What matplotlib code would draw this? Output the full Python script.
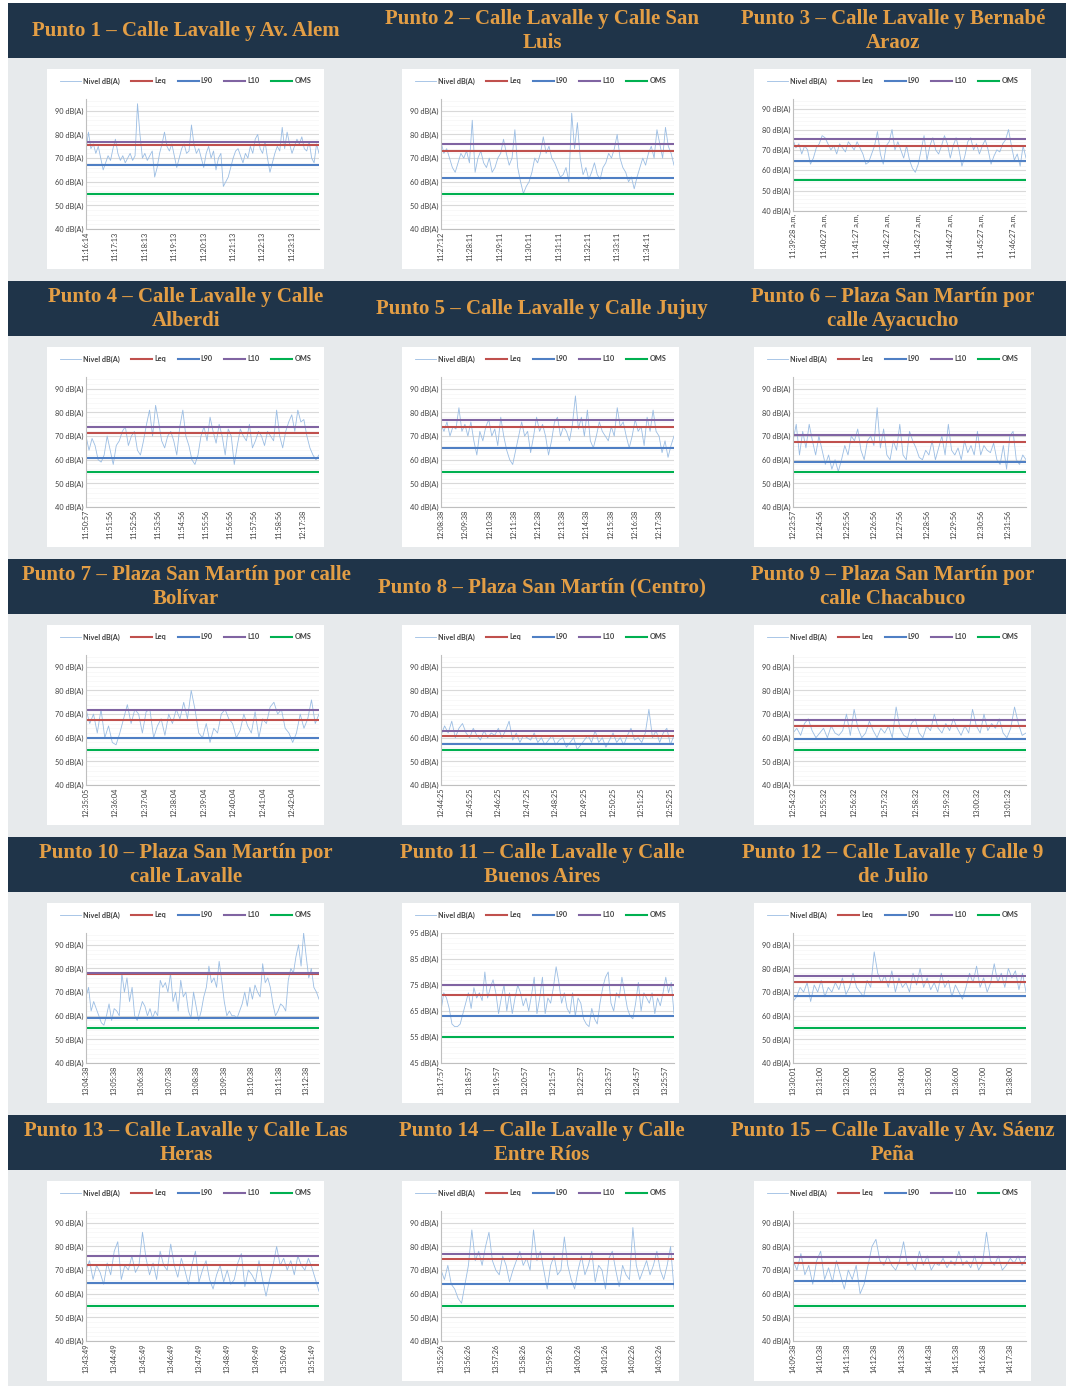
import numpy as np
import matplotlib.pyplot as plt
from matplotlib.patches import Rectangle

# titles of the 15 measuring points
titles = [
    "Punto 1 – Calle Lavalle y Av. Alem",
    "Punto 2 – Calle Lavalle y Calle San\nLuis",
    "Punto 3 – Calle Lavalle y Bernabé\nAraoz",
    "Punto 4 – Calle Lavalle y Calle\nAlberdi",
    "Punto 5 – Calle Lavalle y Calle Jujuy",
    "Punto 6 – Plaza San Martín por\ncalle Ayacucho",
    "Punto 7 – Plaza San Martín por calle\nBolívar",
    "Punto 8 – Plaza San Martín (Centro)",
    "Punto 9 – Plaza San Martín por\ncalle Chacabuco",
    "Punto 10 – Plaza San Martín por\ncalle Lavalle",
    "Punto 11 – Calle Lavalle y Calle\nBuenos Aires",
    "Punto 12 – Calle Lavalle y Calle 9\nde Julio",
    "Punto 13 – Calle Lavalle y Calle Las\nHeras",
    "Punto 14 – Calle Lavalle y Calle\nEntre Ríos",
    "Punto 15 – Calle Lavalle y Av. Sáenz\nPeña",
]

# measurement length in seconds
durations = [476, 476, 444, 581, 577, 521, 475, 489, 455, 508, 500, 515, 495, 512, 515]

# x tick labels, one per minute
time_labels = [
    ["11:16:14", "11:17:13", "11:18:13", "11:19:13", "11:20:13", "11:21:13", "11:22:13", "11:23:13"],
    ["11:27:12", "11:28:11", "11:29:11", "11:30:11", "11:31:11", "11:32:11", "11:33:11", "11:34:11"],
    ["11:39:28 a,m,", "11:40:27 a,m,", "11:41:27 a,m,", "11:42:27 a,m,", "11:43:27 a,m,",
     "11:44:27 a,m,", "11:45:27 a,m,", "11:46:27 a,m,"],
    ["11:50:57", "11:51:56", "11:52:56", "11:53:56", "11:54:56", "11:55:56", "11:56:56",
     "11:57:56", "11:58:56", "12:17:38"],
    ["12:08:38", "12:09:38", "12:10:38", "12:11:38", "12:12:38", "12:13:38", "12:14:38",
     "12:15:38", "12:16:38", "12:17:38"],
    ["12:23:57", "12:24:56", "12:25:56", "12:26:56", "12:27:56", "12:28:56", "12:29:56", "12:30:56", "12:31:56"],
    ["12:35:05", "12:36:04", "12:37:04", "12:38:04", "12:39:04", "12:40:04", "12:41:04", "12:42:04"],
    ["12:44:25", "12:45:25", "12:46:25", "12:47:25", "12:48:25", "12:49:25", "12:50:25", "12:51:25", "12:52:25"],
    ["12:54:32", "12:55:32", "12:56:32", "12:57:32", "12:58:32", "12:59:32", "13:00:32", "13:01:32"],
    ["13:04:38", "13:05:38", "13:06:38", "13:07:38", "13:08:38", "13:09:38", "13:10:38", "13:11:38", "13:12:38"],
    ["13:17:57", "13:18:57", "13:19:57", "13:20:57", "13:21:57", "13:22:57", "13:23:57", "13:24:57", "13:25:57"],
    ["13:30:01", "13:31:00", "13:32:00", "13:33:00", "13:34:00", "13:35:00", "13:36:00", "13:37:00", "13:38:00"],
    ["13:43:49", "13:44:49", "13:45:49", "13:46:49", "13:47:49", "13:48:49", "13:49:49", "13:50:49", "13:51:49"],
    ["13:55:26", "13:56:26", "13:57:26", "13:58:26", "13:59:26", "14:00:26", "14:01:26", "14:02:26", "14:03:26"],
    ["14:09:38", "14:10:38", "14:11:38", "14:12:38", "14:13:38", "14:14:38", "14:15:38", "14:16:38", "14:17:38"],
]

# summary levels dB(A)
leq = [75.4, 73.1, 72.0, 71.3, 73.8, 67.3, 67.7, 60.9, 64.9, 77.8, 71.2, 74.1, 72.3, 74.7, 73.1]
l90 = [67.0, 61.7, 64.6, 60.7, 65.1, 59.2, 59.9, 57.2, 59.6, 59.0, 63.0, 68.2, 64.4, 64.1, 65.2]
l10 = [76.7, 75.8, 75.2, 74.0, 76.7, 70.3, 71.6, 63.0, 67.7, 78.2, 75.0, 76.9, 75.8, 77.0, 75.5]
oms = 55

# lower end of each y axis (top is 95)
y_min = [40, 40, 40, 40, 40, 40, 40, 40, 40, 40, 45, 40, 40, 40, 40]

nivel_p1 = [73, 81, 74, 76, 72, 75, 70, 65, 68, 71, 69, 74, 78, 72, 69, 71, 68, 70, 72, 69, 71, 93, 80, 70,
            72, 69, 71, 73, 62, 66, 72, 76, 81, 75, 73, 76, 71, 66, 70, 74, 76, 72, 73, 84, 76, 72, 74, 70,
            66, 72, 75, 70, 73, 65, 70, 72, 58, 60, 62, 66, 70, 73, 74, 71, 68, 72, 70, 75, 72, 78, 80, 74,
            72, 77, 70, 64, 68, 72, 75, 73, 83, 74, 81, 76, 72, 75, 78, 76, 79, 74, 73, 77, 70, 68, 76, 72]
nivel_p2 = [77, 72, 74, 70, 66, 64, 68, 72, 70, 73, 68, 86, 64, 70, 73, 68, 66, 70, 64, 66, 70, 72, 78, 72,
            67, 70, 82, 66, 60, 55, 58, 60, 64, 70, 68, 72, 79, 72, 75, 70, 68, 65, 62, 63, 66, 60, 89, 74,
            85, 70, 63, 66, 61, 64, 68, 63, 61, 66, 68, 72, 70, 74, 80, 70, 66, 64, 60, 62, 57, 62, 66, 70,
            67, 72, 75, 70, 82, 76, 70, 83, 75, 72, 67]
nivel_p3 = [75, 71, 73, 68, 72, 70, 63, 66, 71, 73, 77, 76, 73, 70, 72, 68, 73, 71, 69, 74, 72, 70, 74, 71,
            68, 63, 64, 68, 72, 79, 68, 63, 72, 74, 80, 70, 74, 70, 66, 72, 65, 61, 59, 63, 70, 77, 65, 72,
            76, 70, 68, 72, 77, 73, 66, 72, 76, 70, 62, 67, 74, 76, 70, 73, 68, 72, 75, 70, 63, 67, 70, 69,
            73, 75, 80, 72, 65, 68, 62, 72, 66]
nivel_p4 = [70, 64, 69, 66, 60, 59, 62, 70, 64, 58, 66, 68, 72, 74, 66, 70, 72, 64, 62, 68, 75, 81, 70, 83,
            76, 68, 65, 70, 72, 68, 62, 74, 81, 70, 66, 60, 58, 62, 70, 74, 68, 78, 72, 67, 75, 70, 62, 73,
            70, 58, 66, 73, 70, 68, 75, 65, 68, 72, 70, 66, 72, 70, 68, 81, 70, 65, 72, 76, 79, 72, 81, 76,
            77, 70, 65, 62, 60, 62]
nivel_p5 = [75, 72, 76, 70, 74, 73, 82, 72, 75, 70, 76, 68, 62, 72, 68, 74, 77, 70, 73, 66, 78, 70, 64, 60,
            58, 64, 70, 76, 70, 72, 63, 70, 78, 72, 75, 70, 62, 68, 76, 78, 70, 74, 72, 68, 75, 87, 73, 78,
            70, 81, 68, 65, 70, 76, 72, 70, 68, 74, 70, 82, 74, 76, 70, 65, 70, 77, 72, 74, 66, 78, 72, 81,
            72, 70, 63, 68, 61, 66, 70]
nivel_p6 = [68, 75, 62, 72, 65, 75, 68, 62, 70, 64, 58, 62, 56, 60, 55, 60, 66, 62, 70, 68, 73, 64, 60, 68,
            70, 66, 82, 65, 73, 62, 60, 68, 64, 75, 62, 60, 72, 68, 65, 61, 60, 64, 62, 68, 60, 65, 70, 62,
            75, 64, 62, 65, 60, 68, 63, 66, 62, 72, 62, 66, 64, 63, 67, 60, 58, 66, 56, 70, 72, 60, 58, 62, 60]
nivel_p7 = [72, 66, 70, 62, 72, 60, 65, 58, 57, 62, 68, 74, 66, 72, 70, 62, 71, 72, 60, 65, 68, 61, 70, 66,
            72, 68, 75, 68, 80, 72, 62, 60, 66, 58, 64, 62, 70, 72, 68, 66, 60, 63, 70, 65, 62, 71, 60, 68,
            66, 73, 75, 70, 72, 64, 62, 58, 62, 70, 64, 68, 76, 66, 70]
nivel_p8 = [61, 65, 62, 67, 60, 64, 66, 62, 60, 64, 61, 59, 63, 60, 62, 61, 64, 60, 63, 67, 59, 62, 58, 61,
            60, 59, 62, 58, 60, 57, 59, 61, 57, 59, 60, 56, 58, 60, 55, 57, 59, 61, 58, 63, 58, 60, 56, 59,
            62, 58, 60, 57, 61, 64, 59, 60, 58, 62, 72, 60, 63, 58, 62, 64, 57, 61]
nivel_p9 = [62, 64, 61, 66, 68, 63, 60, 62, 64, 60, 65, 62, 61, 63, 70, 61, 72, 64, 60, 62, 67, 63, 60, 64,
            62, 65, 60, 73, 64, 61, 60, 66, 68, 62, 60, 65, 63, 70, 64, 62, 66, 63, 68, 64, 61, 65, 62, 72,
            65, 62, 70, 63, 66, 64, 68, 62, 60, 64, 73, 66, 61, 62]
nivel_p10 = [68, 72, 62, 66, 63, 60, 57, 56, 60, 65, 58, 63, 62, 60, 78, 70, 76, 66, 72, 60, 58, 62, 66, 64,
             60, 63, 59, 62, 60, 75, 72, 74, 70, 78, 66, 70, 62, 75, 68, 70, 62, 59, 70, 64, 58, 62, 68, 72,
             81, 74, 76, 72, 83, 75, 66, 60, 62, 60, 60, 59, 62, 65, 70, 64, 72, 67, 73, 70, 68, 82, 74, 76,
             72, 65, 60, 62, 65, 64, 62, 75, 80, 78, 85, 90, 81, 95, 85, 76, 80, 72, 70, 67]
nivel_p11 = [65, 72, 70, 66, 60, 59, 59, 60, 64, 68, 72, 66, 74, 70, 72, 69, 80, 70, 74, 77, 72, 64, 70, 75,
             65, 72, 64, 70, 75, 72, 67, 70, 65, 71, 78, 64, 70, 78, 64, 70, 68, 74, 82, 76, 68, 72, 66, 64,
             72, 63, 70, 68, 62, 60, 59, 66, 62, 60, 68, 74, 78, 80, 68, 65, 72, 70, 78, 72, 66, 63, 62, 68,
             76, 65, 72, 70, 68, 72, 64, 70, 67, 72, 78, 72, 76, 64]
nivel_p12 = [66, 68, 72, 70, 74, 66, 73, 70, 75, 68, 72, 70, 74, 71, 76, 69, 72, 78, 72, 70, 68, 75, 72, 87,
             78, 74, 77, 72, 79, 70, 76, 72, 74, 70, 78, 73, 80, 72, 76, 71, 74, 70, 78, 72, 75, 68, 73, 70,
             67, 72, 78, 74, 81, 72, 76, 70, 74, 82, 74, 78, 72, 80, 76, 79, 71, 78, 70]
nivel_p13 = [70, 74, 66, 72, 69, 64, 73, 68, 78, 82, 66, 72, 70, 76, 69, 72, 86, 75, 68, 73, 66, 78, 72, 70,
             81, 72, 67, 75, 70, 64, 72, 78, 65, 70, 74, 66, 62, 68, 72, 65, 70, 64, 66, 73, 77, 63, 70, 68,
             65, 74, 66, 59, 66, 72, 80, 72, 75, 70, 74, 68, 76, 72, 70, 75, 71, 66, 61]
nivel_p14 = [70, 66, 72, 64, 62, 58, 56, 64, 72, 87, 74, 78, 72, 80, 86, 74, 70, 68, 76, 72, 65, 70, 74, 78,
             72, 75, 70, 87, 74, 78, 70, 62, 72, 76, 68, 70, 84, 72, 66, 62, 70, 76, 68, 72, 78, 65, 72, 70,
             62, 75, 78, 70, 63, 72, 68, 66, 88, 72, 66, 70, 74, 68, 72, 78, 70, 66, 72, 80, 62]
nivel_p15 = [74, 70, 77, 68, 72, 64, 74, 78, 66, 71, 65, 74, 68, 62, 70, 66, 72, 60, 64, 72, 80, 83, 74, 72,
             76, 72, 70, 74, 82, 72, 73, 70, 78, 72, 76, 70, 73, 72, 75, 71, 74, 72, 78, 72, 74, 71, 76, 70,
             73, 86, 74, 72, 76, 70, 72, 75, 73, 76, 72, 75]

niveles = [nivel_p1, nivel_p2, nivel_p3, nivel_p4, nivel_p5, nivel_p6, nivel_p7, nivel_p8,
           nivel_p9, nivel_p10, nivel_p11, nivel_p12, nivel_p13, nivel_p14, nivel_p15]

# colours
navy = '#1f3449'
gold = '#e39e45'
grey_bg = '#e7eaec'
c_nivel = '#9bbde3'
c_leq = '#c0504d'
c_l90 = '#4f7fc4'
c_l10 = '#8064a2'
c_oms = '#00b050'

W, H = 1068, 1389
fig = plt.figure(figsize=(W / 100, H / 100), dpi=100)
bg = fig.add_axes([0, 0, 1, 1])
bg.set_xlim(0, W)
bg.set_ylim(H, 0)
bg.axis('off')
bg.add_patch(Rectangle((8, 3), 1058, 1383, color=grey_bg, lw=0))

col_left = [47, 402, 754]
col_center = [186, 542, 893]


def px_axes(x, y, w, h):
    return fig.add_axes([x / W, 1 - (y + h) / H, w / W, h / H])


for i in range(15):
    r, c = divmod(i, 3)
    y0 = 3 + 278 * r
    if c == 0:
        bg.add_patch(Rectangle((8, y0), 1058, 55, color=navy, lw=0))
    bg.text(col_center[c], y0 + 28, titles[i], ha='center', va='center', color=gold,
            fontsize=15, fontweight='bold', family='Liberation Serif', linespacing=1.25)
    bx = col_left[c]
    bg.add_patch(Rectangle((bx, y0 + 66), 277, 200, color='white', lw=0))

    bottom = y0 + 208 if i == 2 else y0 + 226
    ax = px_axes(bx + 39, y0 + 96, 233, bottom - (y0 + 96))
    dur = durations[i]
    vals = niveles[i]
    t = np.linspace(0, dur, len(vals))
    h1, = ax.plot(t, vals, color=c_nivel, lw=0.6, label='Nivel dB(A)')
    h2 = ax.axhline(leq[i], color=c_leq, lw=1.5, label='Leq')
    h3 = ax.axhline(l90[i], color=c_l90, lw=1.5, label='L90')
    h4 = ax.axhline(l10[i], color=c_l10, lw=1.5, label='L10')
    h5 = ax.axhline(oms, color=c_oms, lw=1.5, label='OMS')

    ax.set_xlim(0, dur)
    ax.set_ylim(y_min[i], 95)
    yt = np.arange(y_min[i], 96, 10)
    ax.set_yticks(yt)
    ax.set_yticklabels([f"{v} dB(A)" for v in yt])
    ax.set_yticks(np.arange(y_min[i], 95, 2), minor=True)
    ax.grid(axis='y', which='major', color='#d9d9d9', lw=0.8)
    ax.grid(axis='y', which='minor', color='#f5f5f5', lw=0.5)
    ax.set_axisbelow(True)
    labs = time_labels[i]
    ax.set_xticks(np.arange(len(labs)) * 60)
    ax.set_xticklabels(labs, rotation=90)
    ax.tick_params(which='both', length=0, labelsize=5.3, colors='#404040', pad=2)
    for lab in ax.get_xticklabels() + ax.get_yticklabels():
        lab.set_family('Lato')
    for s in ['top', 'right']:
        ax.spines[s].set_visible(False)
    for s in ['left', 'bottom']:
        ax.spines[s].set_color('#bfbfbf')
        ax.spines[s].set_linewidth(0.8)

    ax.legend(handles=[h1, h2, h3, h4, h5], loc='center', ncol=5, frameon=False,
              bbox_to_anchor=(bx + 138.5, y0 + 78), bbox_transform=bg.transData,
              prop={'family': 'Lato', 'weight': 'bold', 'size': 5.2},
              handlelength=2.9, handletextpad=0.3, columnspacing=1.6, labelcolor='#404040')

fig.savefig('out.png', dpi=100, facecolor='white')
